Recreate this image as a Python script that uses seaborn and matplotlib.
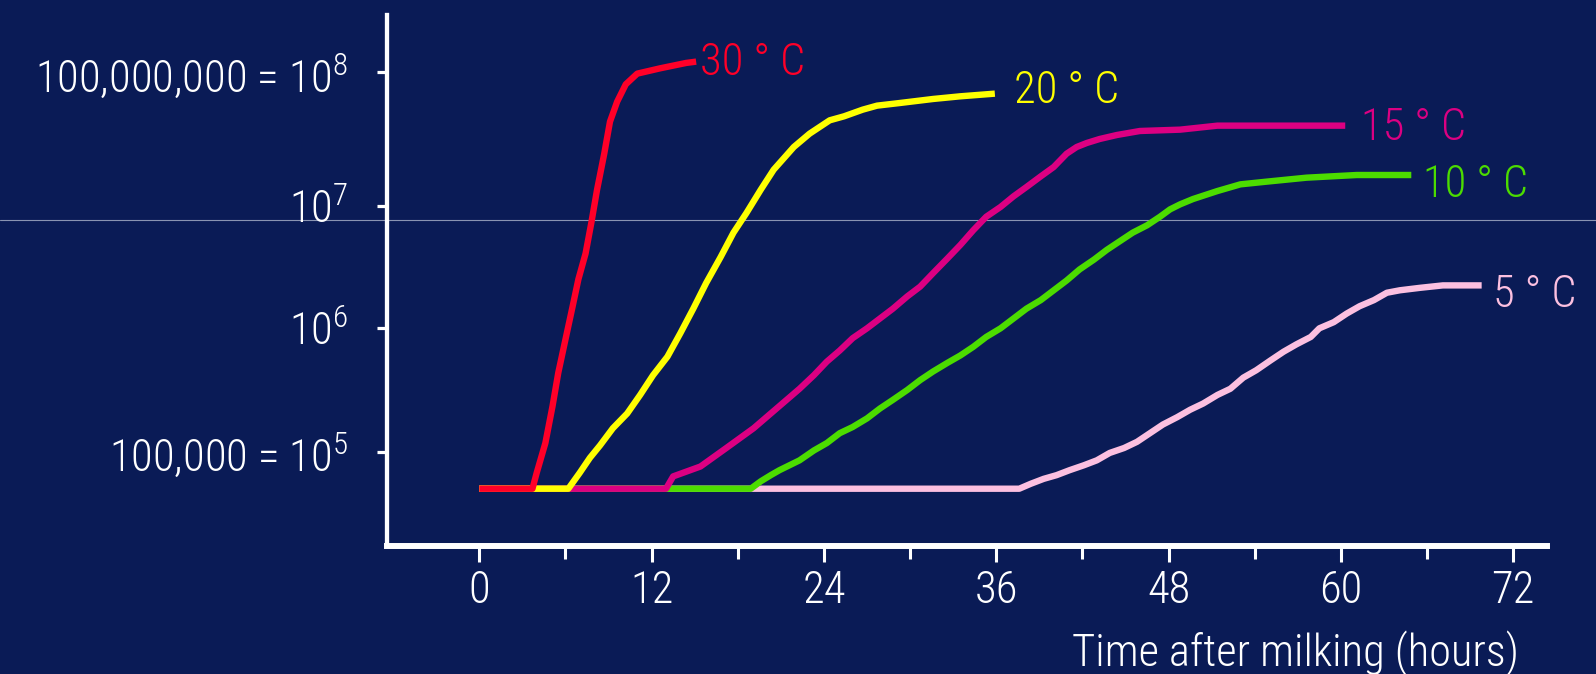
import numpy as np
import pandas as pd
import matplotlib
matplotlib.use("Agg")
import matplotlib.pyplot as plt
from matplotlib import font_manager as fm
from matplotlib.lines import Line2D
from matplotlib.ticker import FixedLocator, FixedFormatter
import seaborn as sns

# Growth of bacteria in raw milk kept at different temperatures.
# Time after milking in hours, bacteria count per ml as log10 values.
hours_30 = [0, 3.7, 4.0, 4.6, 5.1, 5.5, 6.0, 6.5, 6.9, 7.4, 7.8, 8.2, 8.7, 9.1, 9.6,
            10.2, 11.0, 12.6, 14.4, 15.1]
log_30 = [4.70, 4.70, 4.83, 5.07, 5.37, 5.64, 5.91, 6.18, 6.40, 6.61, 6.86, 7.12, 7.39,
          7.63, 7.78, 7.91, 7.99, 8.03, 8.07, 8.08]

hours_20 = [0, 6.2, 7.0, 7.7, 8.4, 9.3, 10.3, 11.2, 12.1, 13.1, 14.0, 14.9, 15.8, 16.8,
            17.7, 18.6, 19.6, 20.5, 21.9, 23.0, 24.4, 25.4, 26.7, 27.7, 29.3, 31.6, 33.5, 35.9]
log_20 = [4.70, 4.70, 4.83, 4.95, 5.05, 5.19, 5.31, 5.46, 5.62, 5.77, 5.96, 6.16, 6.37,
          6.58, 6.78, 6.94, 7.12, 7.27, 7.44, 7.54, 7.64, 7.67, 7.72, 7.75, 7.77, 7.80,
          7.82, 7.84]

hours_15 = [0, 13.0, 13.5, 15.4, 17.2, 19.1, 20.9, 22.3, 23.3, 24.2, 25.1, 26.0, 27.0,
            27.9, 28.8, 29.8, 30.7, 31.6, 32.6, 33.5, 34.4, 35.3, 36.3, 37.2, 38.1, 39.1,
            40.0, 40.9, 41.6, 42.3, 43.2, 44.4, 46.0, 48.8, 51.4, 60.3]
log_15 = [4.70, 4.70, 4.80, 4.88, 5.03, 5.19, 5.37, 5.51, 5.62, 5.73, 5.82, 5.92, 6.00,
          6.08, 6.16, 6.26, 6.34, 6.45, 6.57, 6.68, 6.80, 6.91, 6.99, 7.07, 7.14, 7.22,
          7.29, 7.39, 7.44, 7.47, 7.50, 7.53, 7.56, 7.57, 7.60, 7.60]

hours_10 = [0, 18.9, 19.6, 20.3, 20.9, 22.3, 23.3, 24.2, 25.1, 26.0, 27.0, 27.9, 28.8,
            29.8, 30.7, 31.6, 32.6, 33.5, 34.4, 35.3, 36.3, 37.2, 38.1, 39.1, 40.0, 40.9,
            41.8, 42.8, 43.7, 44.6, 45.5, 46.5, 47.4, 48.1, 48.8, 49.7, 51.4, 53.0, 54.8,
            57.6, 61.1, 64.9]
log_10 = [4.70, 4.70, 4.76, 4.81, 4.85, 4.93, 5.01, 5.07, 5.15, 5.20, 5.27, 5.35, 5.42,
          5.50, 5.58, 5.65, 5.72, 5.78, 5.85, 5.93, 6.00, 6.08, 6.16, 6.23, 6.31, 6.39,
          6.48, 6.56, 6.64, 6.71, 6.78, 6.84, 6.91, 6.97, 7.01, 7.05, 7.11, 7.16, 7.18,
          7.21, 7.23, 7.23]

hours_5 = [0, 37.6, 38.4, 39.3, 40.2, 41.1, 42.1, 43.0, 43.9, 44.9, 45.8, 46.7, 47.6,
           48.6, 49.5, 50.4, 51.4, 52.3, 53.2, 54.1, 55.1, 56.0, 56.9, 57.9, 58.5, 59.5,
           60.4, 61.3, 62.3, 63.2, 64.1, 65.5, 67.1, 69.8]
log_5 = [4.70, 4.70, 4.74, 4.78, 4.81, 4.85, 4.89, 4.93, 4.99, 5.03, 5.08, 5.15, 5.22,
         5.28, 5.34, 5.39, 5.46, 5.51, 5.60, 5.66, 5.74, 5.81, 5.87, 5.93, 6.00, 6.05,
         6.12, 6.18, 6.23, 6.29, 6.31, 6.33, 6.35, 6.35]

# drawn from coolest to warmest so the warmer curves sit on top
temperatures = ["5 ° C", "10 ° C", "15 ° C", "20 ° C", "30 ° C"]
series_hours = [hours_5, hours_10, hours_15, hours_20, hours_30]
series_logs = [log_5, log_10, log_15, log_20, log_30]
curve_colors = ["#FCC0E0", "#4CDC00", "#DC0082", "#FFFF00", "#FF0028"]

y_tick_values = [5, 6, 7, 8]
y_tick_labels = ["100,000 = $\\mathregular{10^5}$", "$\\mathregular{10^6}$",
                 "$\\mathregular{10^7}$", "100,000,000 = $\\mathregular{10^8}$"]
x_tick_values = [0, 12, 24, 36, 48, 60, 72]
x_minor_values = [6, 18, 30, 42, 54, 66]
x_label = "Time after milking (hours)"

# label placement next to each curve end (points)
label_offsets = {"30 ° C": (3.1, -9.4), "20 ° C": (13.7, -6.7), "15 ° C": (11.7, -10.1),
                 "10 ° C": (8.6, -16.0), "5 ° C": (8.1, -15.6)}

BG = "#0A1B56"

# prefer a narrow, light sans face; fall back to a regular one at a smaller size
_entries = fm.fontManager.ttflist
_names = {f.name for f in _entries}
font_name, font_stretch = "Liberation Sans", "normal"
for cand in ("Liberation Sans Narrow", "Roboto Condensed", "DejaVu Sans Condensed",
             "Noto Sans Condensed", "Open Sans Condensed", "Arial Narrow"):
    if cand in _names:
        font_name = cand
        break
else:
    for fam in ("Roboto", "Noto Sans", "Open Sans", "Liberation Sans", "DejaVu Sans"):
        if any(f.name == fam and f.stretch in ("condensed", "semi-condensed",
                                               "extra-condensed") for f in _entries):
            font_name, font_stretch = fam, "condensed"
            break
narrow = (font_name != "Liberation Sans") or (font_stretch != "normal")
font_weight = "light" if narrow else "normal"
text_size = 32
ylabel_size = 32 if narrow else 29

sns.set_style("ticks")
plt.rcParams["font.family"] = [font_name, "DejaVu Sans"]
plt.rcParams["font.stretch"] = font_stretch
plt.rcParams["font.weight"] = font_weight
plt.rcParams["axes.labelweight"] = font_weight
plt.rcParams["font.size"] = text_size
_math_font = f"{font_name}:weight={font_weight}"
if font_stretch != "normal":
    _math_font += f":stretch={font_stretch}"
plt.rcParams["mathtext.fontset"] = "custom"
plt.rcParams["mathtext.rm"] = _math_font
plt.rcParams["mathtext.it"] = _math_font
plt.rcParams["mathtext.bf"] = _math_font

df = pd.concat(
    [pd.DataFrame({"hours": h, "log_count": lg, "temperature": t})
     for t, h, lg in zip(temperatures, series_hours, series_logs)],
    ignore_index=True,
)

fig = plt.figure(figsize=(15.96, 6.74), dpi=100, facecolor=BG)
ax = fig.add_axes([0.24248, 0.18947, 0.72682, 0.78828])
ax.set_facecolor("none")

sns.lineplot(data=df, x="hours", y="log_count", hue="temperature",
             hue_order=temperatures, palette=dict(zip(temperatures, curve_colors)),
             estimator=None, sort=False, linewidth=4.6, legend=False, ax=ax)
for ln in ax.lines:
    ln.set_solid_capstyle("butt")
    ln.set_solid_joinstyle("round")

# the value axis has slightly uneven decade spacing (top decade is taller)
_dec = np.array([-100.0, 5.0, 6.0, 7.0, 8.0, 100.0])
_pos = np.array([-105 * 123.4, 0.0, 123.4, 246.0, 379.4, 379.4 + 92 * 133.4])


def _forward(v):
    return np.interp(np.asarray(v, dtype=float), _dec, _pos)


def _inverse(u):
    return np.interp(np.asarray(u, dtype=float), _pos, _dec)


ax.set_yscale("function", functions=(_forward, _inverse))
ax.set_ylim(4.2334, 8.4295)
ax.set_xlim(-6.428, 74.35)

ax.yaxis.set_major_locator(FixedLocator(y_tick_values))
ax.yaxis.set_major_formatter(FixedFormatter(y_tick_labels))
ax.yaxis.set_minor_locator(FixedLocator([]))
ax.xaxis.set_major_locator(FixedLocator(x_tick_values))
ax.xaxis.set_minor_locator(FixedLocator(x_minor_values))
ax.set_xticklabels([str(v) for v in x_tick_values])

ax.tick_params(axis="y", which="major", direction="out", length=7.4, width=2.3,
               color="white", labelcolor="white", pad=20.7, labelsize=ylabel_size)
ax.tick_params(axis="x", which="major", direction="out", length=11.7, width=2.2,
               color="white", labelcolor="white", pad=4.8, labelsize=text_size)
ax.tick_params(axis="x", which="minor", direction="out", length=9.4, width=2.2,
               color="white")

for side in ("top", "right"):
    ax.spines[side].set_visible(False)
ax.spines["left"].set_color("white")
ax.spines["left"].set_linewidth(3.1)
ax.spines["bottom"].set_color("white")
ax.spines["bottom"].set_linewidth(4.3)
for side in ("left", "bottom"):
    ax.spines[side].set_capstyle("projecting")

ax.set_ylabel("")
ax.set_xlabel(x_label, color="white", fontsize=text_size, fontweight=font_weight,
              ha="right", va="baseline")
ax.xaxis.set_label_coords(0.9759, -0.2253)

# temperature labels at the end of each curve
for t, h, lg, c in zip(temperatures, series_hours, series_logs, curve_colors):
    dx, dy = label_offsets[t]
    ax.annotate(t, xy=(h[-1], lg[-1]), xytext=(dx, dy), textcoords="offset points",
                ha="left", va="baseline", color=c, fontsize=text_size,
                fontweight=font_weight)

# thin rule across the whole slide
fig.add_artist(Line2D([0, 1], [0.6736, 0.6736], transform=fig.transFigure,
                      color="#8A94B2", linewidth=0.8, zorder=-1))

fig.savefig("out.png", dpi=100, facecolor=BG)
